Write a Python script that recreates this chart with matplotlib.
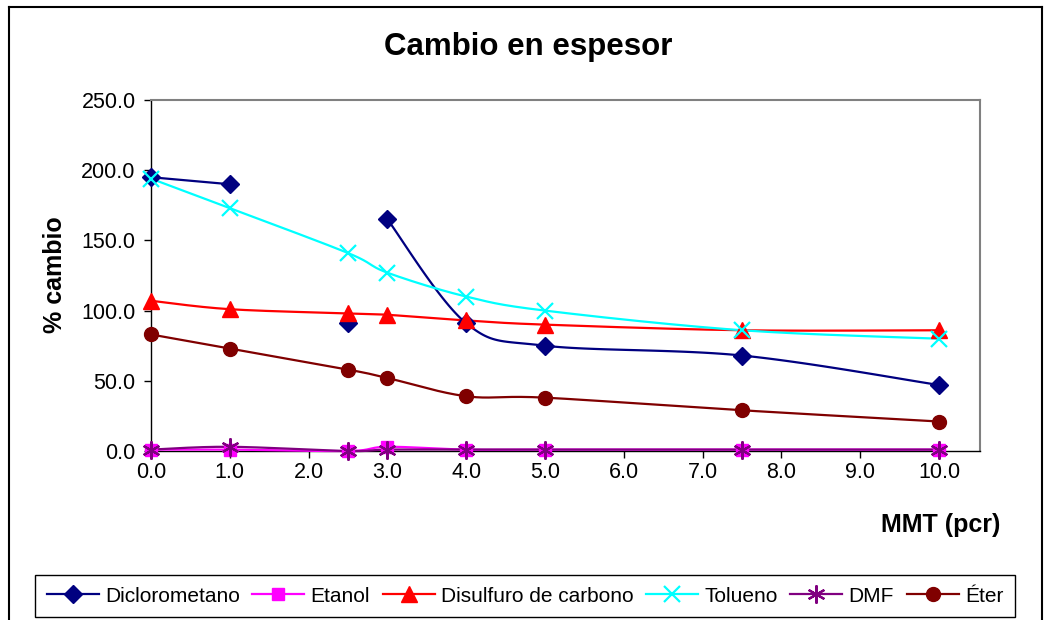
import numpy as np
import matplotlib.pyplot as plt
from matplotlib.lines import Line2D

plt.rcParams['font.family'] = ['Liberation Sans', 'DejaVu Sans']

# Datos
mmt = [0.0, 1.0, 2.5, 3.0, 4.0, 5.0, 7.5, 10.0]
diclorometano = [195, 190, 91, 165, 91, 75, 68, 47]
dicloro_cortes = [2, 3]          # la serie se interrumpe antes de estos índices
etanol = [1, 1, 0, 3, 1, 1, 1, 1]
disulfuro = [107, 101, 98, 97, 93, 90, 86, 86]
tolueno = [194, 173, 141, 127, 110, 100, 86, 80]
dmf = [1, 3, 0, 1, 1, 1, 1, 1]
eter = [83, 73, 58, 52, 39, 38, 29, 21]

XMAX, YMAX = 10.52, 250.0
W, H = 1044, 620
ax_box = (151, 980, 100, 451)  # px: izquierda, derecha, arriba, abajo


def suavizar(x, y, n=30):
    """Curva suavizada tipo Excel (Catmull-Rom) en escala de pantalla."""
    x = np.asarray(x, float)
    y = np.asarray(y, float)
    if len(x) < 3:
        return x, y
    sx = (ax_box[1] - ax_box[0]) / XMAX
    sy = (ax_box[3] - ax_box[2]) / YMAX
    p = np.column_stack([x * sx, y * sy])
    p = np.vstack([p[0], p, p[-1]])
    out = []
    t = np.linspace(0, 1, n)[:, None]
    for i in range(1, len(p) - 2):
        p0, p1, p2, p3 = p[i - 1], p[i], p[i + 1], p[i + 2]
        c1 = p1 + (p2 - p0) / 6
        c2 = p2 - (p3 - p1) / 6
        seg = ((1 - t) ** 3) * p1 + 3 * ((1 - t) ** 2) * t * c1 + 3 * (1 - t) * t ** 2 * c2 + t ** 3 * p2
        out.append(seg if i == 1 else seg[1:])
    out = np.vstack(out)
    return out[:, 0] / sx, out[:, 1] / sy


fig = plt.figure(figsize=(W / 100, H / 100), dpi=100)
ax = fig.add_axes([ax_box[0] / W, 1 - ax_box[3] / H,
                   (ax_box[1] - ax_box[0]) / W, (ax_box[3] - ax_box[2]) / H])

series = [
    ('Diclorometano', diclorometano, '#000080', 'D', 9.5, dicloro_cortes),
    ('Etanol', etanol, '#FF00FF', 's', 8, []),
    ('Disulfuro de carbono', disulfuro, '#FF0000', '^', 11, []),
    ('Tolueno', tolueno, '#00FFFF', 'x', 12, []),
    ('DMF', dmf, '#800080', (6, 2, 0), 13, []),
    ('Éter', eter, '#800000', 'o', 10, []),
]

handles = []
for nombre, vals, color, mk, ms, cortes in series:
    bordes = [0] + cortes + [len(mmt)]
    for a, b in zip(bordes[:-1], bordes[1:]):
        xs, ys = suavizar(mmt[a:b], vals[a:b])
        ax.plot(xs, ys, color=color, lw=1.6, clip_on=False, zorder=3)
    mew = 1.6 if mk in ('x', (6, 2, 0)) else 1
    ax.plot(mmt, vals, ls='none', marker=mk, ms=ms, color=color, mec=color,
            mew=mew, clip_on=False, zorder=4)
    handles.append(Line2D([], [], color=color, lw=1.6, marker=mk, ms=ms,
                          mec=color, mew=mew))

ax.set_xlim(0, XMAX)
ax.set_ylim(0, YMAX)
ax.set_xticks(np.arange(0, 11, 1.0))
ax.set_xticklabels([f'{v:.1f}' for v in np.arange(0, 11, 1.0)])
ax.set_yticks(np.arange(0, 251, 50))
ax.set_yticklabels([f'{v:.1f}' for v in np.arange(0, 251, 50)])
ax.tick_params(axis='both', direction='out', length=5, width=1, labelsize=15.5)
ax.tick_params(axis='x', pad=3)
ax.tick_params(axis='y', pad=6)
for s in ('top', 'right'):
    ax.spines[s].set_color('#808080')
    ax.spines[s].set_linewidth(1.5)
for s in ('left', 'bottom'):
    ax.spines[s].set_color('black')
    ax.spines[s].set_linewidth(1)

fig.text(528 / W, 1 - 47 / H, 'Cambio en espesor', ha='center', va='center',
         fontsize=22.5, fontweight='bold')
fig.text(55 / W, 1 - 275 / H, '% cambio', ha='center', va='center',
         rotation=90, fontsize=18, fontweight='bold')
fig.text(941 / W, 1 - 525 / H, 'MMT (pcr)', ha='center', va='center',
         fontsize=18, fontweight='bold')

leg = fig.legend(handles, [s[0] for s in series], loc='center',
                 bbox_to_anchor=(525 / W, 1 - 596 / H), ncol=6, fontsize=15,
                 handlelength=2.5, handletextpad=0.3, columnspacing=0.6,
                 borderpad=0.55, fancybox=False, framealpha=1)
leg.get_frame().set_edgecolor('black')
leg.get_frame().set_linewidth(1)

# borde del área del gráfico
for xs, ys in [([9, 9], [H + 5, 7]), ([9, 1042], [7, 7]), ([1042, 1042], [7, H + 5])]:
    fig.add_artist(Line2D([x / W for x in xs], [1 - y / H for y in ys],
                          color='black', lw=1.5))

fig.savefig('out.png', dpi=100)
